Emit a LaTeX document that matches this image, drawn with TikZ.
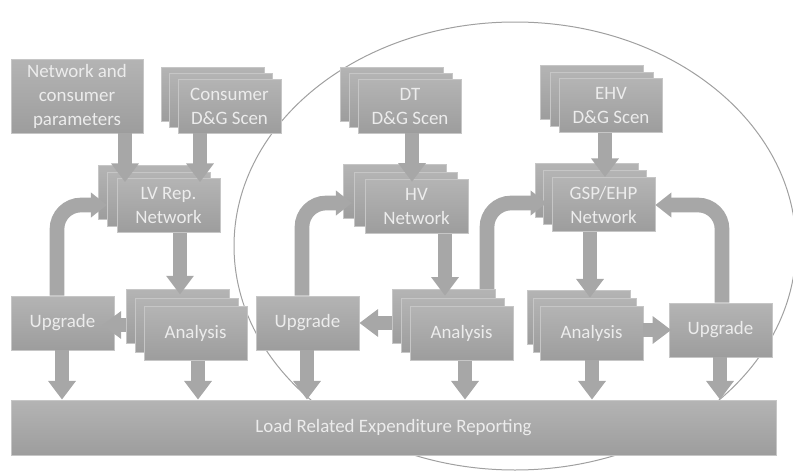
\documentclass[tikz,border=0pt]{standalone}
\usepackage{fontspec}
\setmainfont{Carlito}
\usetikzlibrary{arrows.meta,calc}
\definecolor{boxtop}{HTML}{B4B4B4}
\definecolor{boxbot}{HTML}{9D9D9D}
\definecolor{boxline}{HTML}{C6C6C6}
\definecolor{boxtext}{HTML}{ECECEC}
\definecolor{arrowc}{HTML}{A7A7A7}
\definecolor{ringc}{HTML}{A0A0A0}
\tikzset{
  box/.style={rectangle, top color=boxtop, bottom color=boxbot, draw=boxline,
    line width=0.6pt, text=boxtext, font=\fontsize{14.2}{18}\selectfont,
    align=center, inner sep=0pt, minimum width=77.25pt, minimum height=40.5pt},
  blk/.style={draw=arrowc, line width=11pt, -{Triangle[width=20pt,length=14pt]}},
  loopblk/.style={draw=arrowc, line width=11pt, rounded corners=18pt,
    -{Triangle[width=18pt,length=12pt]}},
}
\begin{document}
\begin{tikzpicture}[x=0.75pt,y=-0.75pt]
\useasboundingbox (0,0) rectangle (793,471);
\begin{scope}
\clip (0,0) rectangle (793,471);
\draw[ringc, line width=0.75pt] (515,246) ellipse [x radius=210.75pt, y radius=168pt];
\end{scope}

% left column
\node[box, minimum width=99pt, minimum height=55.5pt] (ncp) at (77,96) {Network and\\consumer\\parameters};
\node[box] (cs3) at (212.5,94) {};
\node[box] (cs2) at (221,100) {};
\node[box] (cs) at (229.5,106) {Consumer\\D\&G Scen};
\node[box] (lv3) at (149.5,192.5) {};
\node[box] (lv2) at (159,199) {};
\node[box] (lv) at (168.5,205.5) {LV Rep.\\Network};
\node[box] (upl) at (62.5,323) {Upgrade};
\node[box] (al3) at (177.5,316.5) {};
\node[box] (al2) at (186.5,325) {};
\node[box] (al) at (195.5,333.5) {Analysis};

% middle column
\node[box] (dt3) at (392,94) {};
\node[box] (dt2) at (401,100) {};
\node[box] (dt) at (410,106) {DT\\D\&G Scen};
\node[box] (hv3) at (394.5,191.5) {};
\node[box] (hv2) at (405.5,199) {};
\node[box] (hv) at (416.5,206.5) {HV\\Network};
\node[box] (upm) at (307.5,323) {Upgrade};
\node[box] (am3) at (443.5,316.5) {};
\node[box] (am2) at (452.5,325) {};
\node[box] (am) at (461.5,333.5) {Analysis};

% right column
\node[box] (ehv3) at (592,92.5) {};
\node[box] (ehv2) at (601.5,99) {};
\node[box] (ehv) at (611,105.5) {EHV\\D\&G Scen};
\node[box] (gsp3) at (586.5,190.5) {};
\node[box] (gsp2) at (595,197.5) {};
\node[box] (gsp) at (603.5,204.5) {GSP/EHP\\Network};
\node[box] (ar3) at (578.5,317) {};
\node[box] (ar2) at (585,325) {};
\node[box] (ar) at (591.5,333) {Analysis};
\node[box] (upr) at (720.5,330) {Upgrade};

% bottom bar
\node[box, minimum width=573.75pt, minimum height=41.25pt] (bar) at (393.5,427.5) {Load Related Expenditure Reporting};

% arrows left
\draw[blk, shorten >=-3pt] (ncp.south -| 125,0) -- (lv.north -| 125,0);
\draw[blk, shorten >=-3pt] (cs.south -| 200,0) -- (lv.north -| 200,0);
\draw[blk, shorten >=-4pt] (lv.south -| 180,0) -- (al3.north -| 180,0);
\draw[blk, shorten >=-9pt] (al3.west |- 0,325) -- (upl.east |- 0,325);
\draw[blk] (upl.south -| 62,0) -- (bar.north -| 62,0);
\draw[blk] (al.south -| 198,0) -- (bar.north -| 198,0);
\draw[loopblk, shorten >=-7pt] (upl.north -| 57,0) |- (lv3.west |- 0,205);

% arrows middle
\draw[blk, shorten >=-2pt] (dt.south -| 412,0) -- (hv.north -| 412,0);
\draw[blk, shorten >=-5pt] (hv.south -| 445,0) -- (am3.north -| 445,0);
\draw[blk] (am3.west |- 0,323) -- (upm.east |- 0,323);
\draw[blk] (upm.south -| 307,0) -- (bar.north -| 307,0);
\draw[blk] (am.south -| 465,0) -- (bar.north -| 465,0);
\draw[loopblk, shorten >=-7pt] (upm.north -| 302,0) |- (hv3.west |- 0,203);
\draw[loopblk, shorten >=-9pt] (am3.north -| 487,0) |- (gsp3.west |- 0,203);

% arrows right
\draw[blk] (ehv.south -| 605,0) -- (gsp.north -| 605,0);
\draw[blk, shorten >=-6pt] (gsp.south -| 590,0) -- (ar3.north -| 590,0);
\draw[blk, shorten >=-2pt] (ar.east |- 0,330) -- (upr.west |- 0,330);
\draw[blk] (upr.south -| 720,0) -- (bar.north -| 720,0);
\draw[blk] (ar.south -| 592,0) -- (bar.north -| 592,0);
\draw[loopblk] (upr.north -| 722,0) |- (gsp.east |- 0,205);
\end{tikzpicture}
\end{document}
